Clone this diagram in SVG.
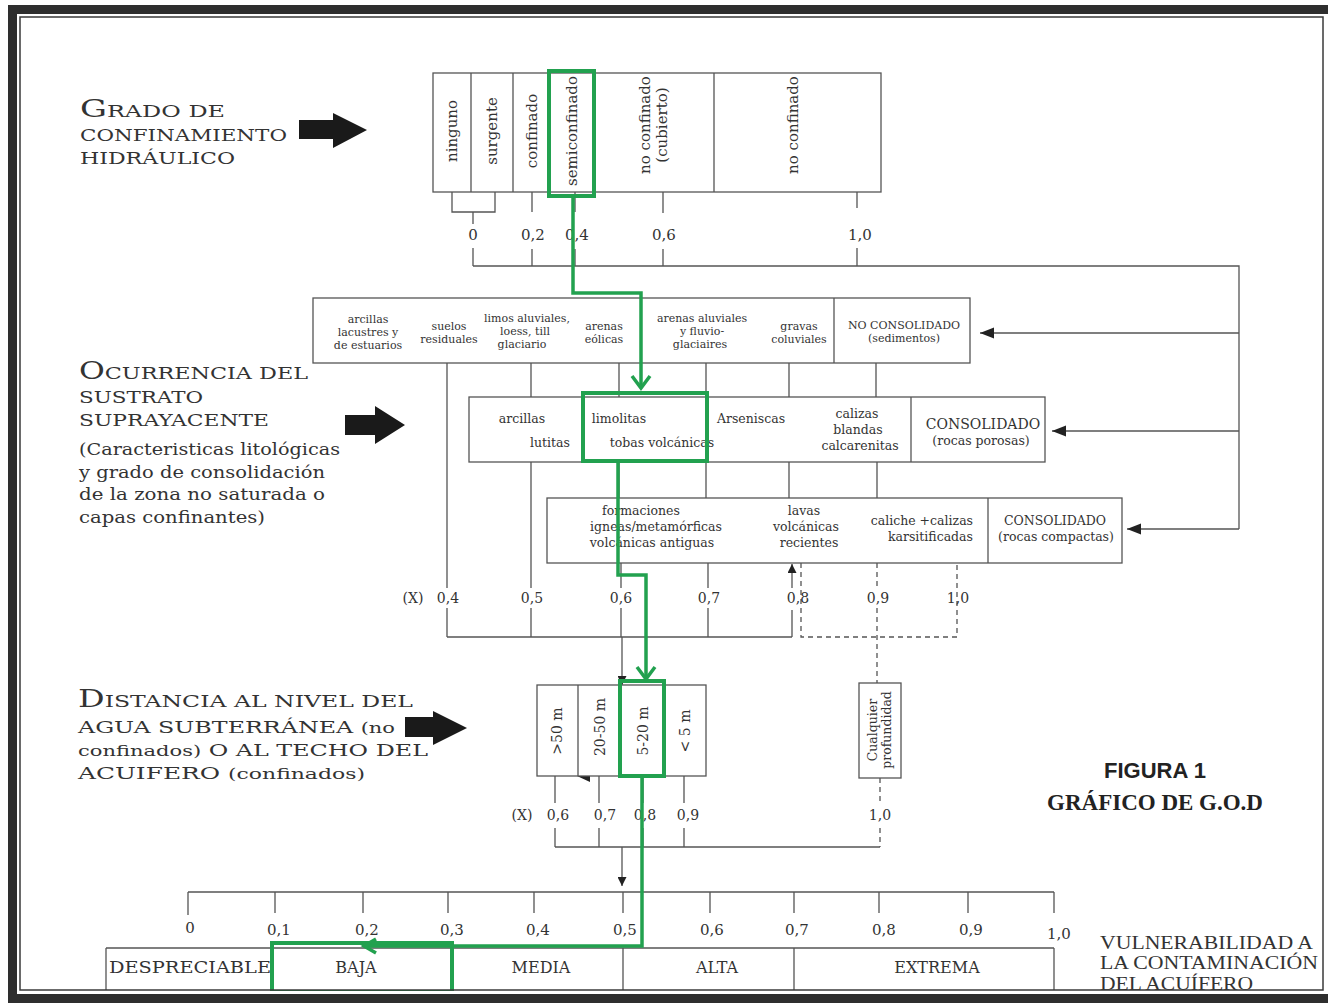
<svg xmlns="http://www.w3.org/2000/svg" width="1328" height="1007" viewBox="0 0 1328 1007">
<style>
.t{font-family:"DejaVu Serif","Liberation Serif",serif;fill:#333}
.m{text-anchor:middle}
.e{text-anchor:end}
.ln{stroke:#555;stroke-width:1.3;fill:none}
.dl{stroke:#555;stroke-width:1.3;fill:none;stroke-dasharray:5 4}
.box{fill:#fff;stroke:#555;stroke-width:1.3}
.g{stroke:#22a14f;stroke-width:4;fill:none}
.ga{stroke:#22a14f;stroke-width:3.5;fill:none}
.big{fill:#1a1a1a}
.s11{font-size:11px}
.s12{font-size:12.5px}
.s14{font-size:14px}
.s15{font-size:15px}
.ti{font-family:"DejaVu Serif","Liberation Serif",serif;fill:#333;font-size:17px}
</style>
<defs>
<marker id="ah" viewBox="0 0 10 10" refX="10" refY="5" markerWidth="9" markerHeight="9" markerUnits="userSpaceOnUse" orient="auto">
<path d="M0,0 L10,5 L0,10 z" fill="#222"/>
</marker>
<marker id="ahL" viewBox="0 0 10 10" refX="10" refY="5" markerWidth="14" markerHeight="14" markerUnits="userSpaceOnUse" orient="auto">
<path d="M0,1 L10,5 L0,9 z" fill="#222"/>
</marker>
</defs>
<rect width="1328" height="1007" fill="#fff"/>

<!-- Left titles -->
<g id="title-grado">
<text class="ti" x="80" y="117" textLength="145" lengthAdjust="spacingAndGlyphs"><tspan font-size="24">G</tspan>RADO DE</text>
<text class="ti" x="80" y="141" textLength="207" lengthAdjust="spacingAndGlyphs">CONFINAMIENTO</text>
<text class="ti" x="80" y="164" textLength="155" lengthAdjust="spacingAndGlyphs">HIDRÁULICO</text>
<path class="big" d="M299,120 H333 V113 L367,130 L333,148 V139 H299 Z"/>
</g>
<g id="title-ocurrencia">
<text class="ti" x="79" y="379" textLength="229" lengthAdjust="spacingAndGlyphs"><tspan font-size="24">O</tspan>CURRENCIA DEL</text>
<text class="ti" x="79" y="403" textLength="124" lengthAdjust="spacingAndGlyphs">SUSTRATO</text>
<text class="ti" x="79" y="426" textLength="190" lengthAdjust="spacingAndGlyphs">SUPRAYACENTE</text>
<text class="ti" x="79" y="455" textLength="261" lengthAdjust="spacingAndGlyphs">(Caracteristicas litológicas</text>
<text class="ti" x="79" y="478" textLength="246" lengthAdjust="spacingAndGlyphs">y grado de consolidación</text>
<text class="ti" x="79" y="500" textLength="246" lengthAdjust="spacingAndGlyphs">de la zona no saturada o</text>
<text class="ti" x="79" y="523" textLength="186" lengthAdjust="spacingAndGlyphs">capas confinantes)</text>
<path class="big" d="M345,415 H375 V406 L405,425 L375,444 V435 H345 Z"/>
</g>
<g id="title-distancia">
<text class="ti" x="78" y="707" textLength="335" lengthAdjust="spacingAndGlyphs"><tspan font-size="24">D</tspan>ISTANCIA AL NIVEL DEL</text>
<text class="ti" x="78" y="733" textLength="317" lengthAdjust="spacingAndGlyphs">AGUA SUBTERRÁNEA <tspan font-size="15">(no</tspan></text>
<text class="ti" x="78" y="756" textLength="350" lengthAdjust="spacingAndGlyphs"><tspan font-size="15">confinados)</tspan> O AL TECHO DEL</text>
<text class="ti" x="78" y="779" textLength="287" lengthAdjust="spacingAndGlyphs">ACUIFERO <tspan font-size="15">(confinados)</tspan></text>
<path class="big" d="M405,717 H433 V711 L467,728 L433,745 V737 H405 Z"/>
</g>

<!-- Connectors -->
<g id="connectors">
<!-- top bracket & ticks -->
<path class="ln" d="M452,192 V212 H495 V192 M473,212 V224 M473,248 V266"/>
<path class="ln" d="M532,192 V212 M532,249 V266 M575,192 V212 M575,249 V266 M663,192 V213 M663,249 V266 M857,192 V208 M857,248 V266"/>
<path class="ln" d="M473,266 H1239 V529"/>
<line class="ln" x1="1239" y1="333" x2="980" y2="333" marker-end="url(#ahL)"/>
<line class="ln" x1="1239" y1="431" x2="1052" y2="431" marker-end="url(#ahL)"/>
<line class="ln" x1="1239" y1="529" x2="1127" y2="529" marker-end="url(#ahL)"/>
<!-- sediment to consolidated -->
<path class="ln" d="M447,363 V588 M447,608 V637 M531,363 V397 M531,462 V588 M531,608 V637 M619,363 V397 M706,363 V397 M789,363 V397 M876,363 V397"/>
<path class="ln" d="M619,462 V498 M706,462 V498 M789,462 V498 M877,462 V498"/>
<path class="ln" d="M621,563 V588 M621,608 V637 M708,563 V588 M708,608 V637 M447,637 H792 M792,637 V610"/>
<line class="ln" x1="792" y1="588" x2="792" y2="564" marker-end="url(#ah)"/>
<path class="dl" d="M801,563 V637 H957 V563 M877,563 V588 M877,608 V683"/>
<line class="ln" x1="622" y1="637" x2="622" y2="685" marker-end="url(#ah)"/>
<!-- distance ticks -->
<path class="ln" d="M555,776 V803 M555,828 V847 M599,776 V803 M599,828 V847 M643,776 V803 M643,828 V847 M684,776 V803 M684,828 V847 M555,847 H880"/>
<path class="dl" d="M880,778 V803 M880,828 V847"/>
<path d="M590,770 L577,776 L590,782 Z" fill="#222"/>
<line class="ln" x1="622" y1="847" x2="622" y2="886" marker-end="url(#ah)"/>
</g>

<!-- Grado de confinamiento -->
<g id="node-grado">
<rect class="box" x="433" y="73" width="448" height="119"/>
<path class="ln" d="M471,73 V192 M513,73 V192 M549,73 V192 M594,73 V192 M714,73 V192"/>
<text class="t s15 m" transform="translate(457,131) rotate(-90)">ninguno</text>
<text class="t s15 m" transform="translate(497,131) rotate(-90)">surgente</text>
<text class="t s15 m" transform="translate(537,131) rotate(-90)">confinado</text>
<text class="t s15 m" transform="translate(577,131) rotate(-90)">semiconfinado</text>
<text class="t s15 m" transform="translate(650,125) rotate(-90)">no confinado</text>
<text class="t s15 m" transform="translate(667,125) rotate(-90)">(cubierto)</text>
<text class="t s15 m" transform="translate(798,125) rotate(-90)">no confinado</text>
<text class="t s15 m" x="473" y="240">0</text>
<text class="t s15 m" x="533" y="240">0,2</text>
<text class="t s15 m" x="577" y="240">0,4</text>
<text class="t s15 m" x="664" y="240">0,6</text>
<text class="t s15 m" x="860" y="240">1,0</text>
</g>

<!-- No consolidado -->
<g id="node-sedimentos">
<rect class="box" x="313" y="298" width="657" height="65"/>
<line class="ln" x1="834" y1="298" x2="834" y2="363"/>
<text class="t s11 m" x="368" y="323">arcillas</text>
<text class="t s11 m" x="368" y="336">lacustres y</text>
<text class="t s11 m" x="368" y="349">de estuarios</text>
<text class="t s11 m" x="449" y="330">suelos</text>
<text class="t s11 m" x="449" y="343">residuales</text>
<text class="t s11 m" x="527" y="322">limos aluviales,</text>
<text class="t s11 m" x="525" y="335">loess,  till</text>
<text class="t s11 m" x="522" y="348">glaciario</text>
<text class="t s11 m" x="604" y="330">arenas</text>
<text class="t s11 m" x="604" y="343">eólicas</text>
<text class="t s11 m" x="702" y="322">arenas aluviales</text>
<text class="t s11 m" x="702" y="335">y fluvio-</text>
<text class="t s11 m" x="700" y="348">glaciaires</text>
<text class="t s11 m" x="799" y="330">gravas</text>
<text class="t s11 m" x="799" y="343">coluviales</text>
<text class="t s11 m" x="904" y="329">NO CONSOLIDADO</text>
<text class="t s11 m" x="904" y="342">(sedimentos)</text>
</g>

<!-- Consolidado rocas porosas -->
<g id="node-porosas">
<rect class="box" x="469" y="397" width="576" height="65"/>
<line class="ln" x1="911" y1="397" x2="911" y2="462"/>
<text class="t s12 m" x="522" y="423">arcillas</text>
<text class="t s12 m" x="550" y="447">lutitas</text>
<text class="t s12 m" x="619" y="423">limolitas</text>
<text class="t s12 m" x="662" y="447">tobas volcánicas</text>
<text class="t s12 m" x="751" y="423">Arseniscas</text>
<text class="t s12 m" x="857" y="418">calizas</text>
<text class="t s12 m" x="858" y="434">blandas</text>
<text class="t s12 m" x="860" y="450">calcarenitas</text>
<text class="t s14 m" x="983" y="429">CONSOLIDADO</text>
<text class="t s12 m" x="981" y="445">(rocas porosas)</text>
</g>

<!-- Consolidado rocas compactas -->
<g id="node-compactas">
<rect class="box" x="547" y="498" width="575" height="65"/>
<line class="ln" x1="988" y1="498" x2="988" y2="563"/>
<text class="t s12 m" x="641" y="515">formaciones</text>
<text class="t s12 m" x="656" y="531">igneas/metamórficas</text>
<text class="t s12 m" x="652" y="547">volcánicas antiguas</text>
<text class="t s12 m" x="804" y="515">lavas</text>
<text class="t s12 m" x="806" y="531">volcánicas</text>
<text class="t s12 m" x="809" y="547">recientes</text>
<text class="t s12 e" x="973" y="525">caliche +calizas</text>
<text class="t s12 e" x="973" y="541">karsitificadas</text>
<text class="t s12 m" x="1055" y="525">CONSOLIDADO</text>
<text class="t s12 m" x="1056" y="541">(rocas compactas)</text>
</g>

<!-- Ocurrencia scale labels -->
<g id="scale-ocurrencia">
<text class="t s14 m" x="413" y="603">(X)</text>
<text class="t s14 m" x="448" y="603">0,4</text>
<text class="t s14 m" x="532" y="603">0,5</text>
<text class="t s14 m" x="621" y="603">0,6</text>
<text class="t s14 m" x="709" y="603">0,7</text>
<text class="t s14 m" x="798" y="603">0,8</text>
<text class="t s14 m" x="878" y="603">0,9</text>
<text class="t s14 m" x="958" y="603">1,0</text>
</g>

<!-- Distancia -->
<g id="node-distancia">
<rect class="box" x="537" y="685" width="169" height="91"/>
<path class="ln" d="M578,685 V776 M620,685 V776 M665,685 V776"/>
<text class="t s14 m" transform="translate(562,731) rotate(-90)">&gt;50 m</text>
<text class="t s14 m" transform="translate(605,727) rotate(-90)">20-50 m</text>
<text class="t s14 m" transform="translate(648,731) rotate(-90)">5-20 m</text>
<text class="t s14 m" transform="translate(690,731) rotate(-90)">&lt; 5 m</text>
<text class="t s14 m" x="522" y="820">(X)</text>
<text class="t s14 m" x="558" y="820">0,6</text>
<text class="t s14 m" x="605" y="820">0,7</text>
<text class="t s14 m" x="645" y="820">0,8</text>
<text class="t s14 m" x="688" y="820">0,9</text>
<text class="t s14 m" x="880" y="820">1,0</text>
</g>
<g id="node-cualquier">
<rect class="box" x="859" y="683" width="42" height="95"/>
<text class="t s12 m" transform="translate(877,730) rotate(-90)">Cualquier</text>
<text class="t s12 m" transform="translate(891,730) rotate(-90)">profundidad</text>
</g>

<!-- Vulnerability scale -->
<g id="node-vulnerabilidad">
<path class="ln" d="M188,892 H1054 M188,892 V915 M275,892 V913 M363,892 V913 M448,892 V913 M534,892 V913 M623,892 V913 M710,892 V913 M794,892 V913 M879,892 V913 M968,892 V913 M1054,892 V913"/>
<path class="ln" d="M106,948 H1054 M106,948 V990 M623,948 V990 M794,948 V990 M1054,948 V990"/>
<text class="t s15 m" x="190" y="933">0</text>
<text class="t s15 m" x="279" y="935">0,1</text>
<text class="t s15 m" x="367" y="935">0,2</text>
<text class="t s15 m" x="452" y="935">0,3</text>
<text class="t s15 m" x="538" y="935">0,4</text>
<text class="t s15 m" x="625" y="935">0,5</text>
<text class="t s15 m" x="712" y="935">0,6</text>
<text class="t s15 m" x="797" y="935">0,7</text>
<text class="t s15 m" x="884" y="935">0,8</text>
<text class="t s15 m" x="971" y="935">0,9</text>
<text class="t s15 m" x="1059" y="939">1,0</text>
<text class="t" x="109" y="973" font-size="16" textLength="162" lengthAdjust="spacingAndGlyphs">DESPRECIABLE</text>
<text class="t m" x="356" y="973" font-size="16">BAJA</text>
<text class="t m" x="541" y="973" font-size="16">MEDIA</text>
<text class="t m" x="717" y="973" font-size="16">ALTA</text>
<text class="t m" x="937" y="973" font-size="16">EXTREMA</text>
<text x="1100" y="949" font-family="Liberation Serif, serif" font-size="18" fill="#333" textLength="213" lengthAdjust="spacingAndGlyphs">VULNERABILIDAD A</text>
<text x="1100" y="969" font-family="Liberation Serif, serif" font-size="18" fill="#333" textLength="218" lengthAdjust="spacingAndGlyphs">LA CONTAMINACIÓN</text>
<text x="1100" y="990" font-family="Liberation Serif, serif" font-size="18" fill="#333" textLength="153" lengthAdjust="spacingAndGlyphs">DEL ACUÍFERO</text>
</g>

<!-- Figure title -->
<g id="figure-title">
<text x="1155" y="778" font-family="Liberation Sans, Arial, sans-serif" font-weight="bold" font-size="22" fill="#222" text-anchor="middle">FIGURA 1</text>
<text x="1155" y="810" font-family="Liberation Serif, serif" font-weight="bold" font-size="23" fill="#222" text-anchor="middle">GRÁFICO DE G.O.D</text>
</g>

<!-- Green highlighted path -->
<g id="highlight">
<rect class="g" x="549" y="71" width="45" height="125"/>
<rect class="g" x="583" y="393" width="124" height="68"/>
<rect class="g" x="620" y="681" width="44" height="95"/>
<rect class="g" x="272" y="943" width="180" height="49"/>
<path class="ga" d="M573,196 V293 H641 V388"/>
<path class="ga" d="M632,376 L641,388 L650,376"/>
<path class="ga" d="M618,461 V575 H646 V679"/>
<path class="ga" d="M637,667 L646,679 L655,667"/>
<path class="ga" d="M642,776 V946 H364"/>
<path class="ga" d="M376,939 L364,946 L376,953"/>
</g>

<!-- Frame -->
<g id="frame">
<rect x="0" y="991" width="1328" height="16" fill="#fff"/>
<rect x="12.5" y="9.5" width="1340" height="989" fill="none" stroke="#2e2e2e" stroke-width="9"/>
<rect x="20" y="17" width="1303" height="973" fill="none" stroke="#3a3a3a" stroke-width="1.5"/>
</g>
</svg>
